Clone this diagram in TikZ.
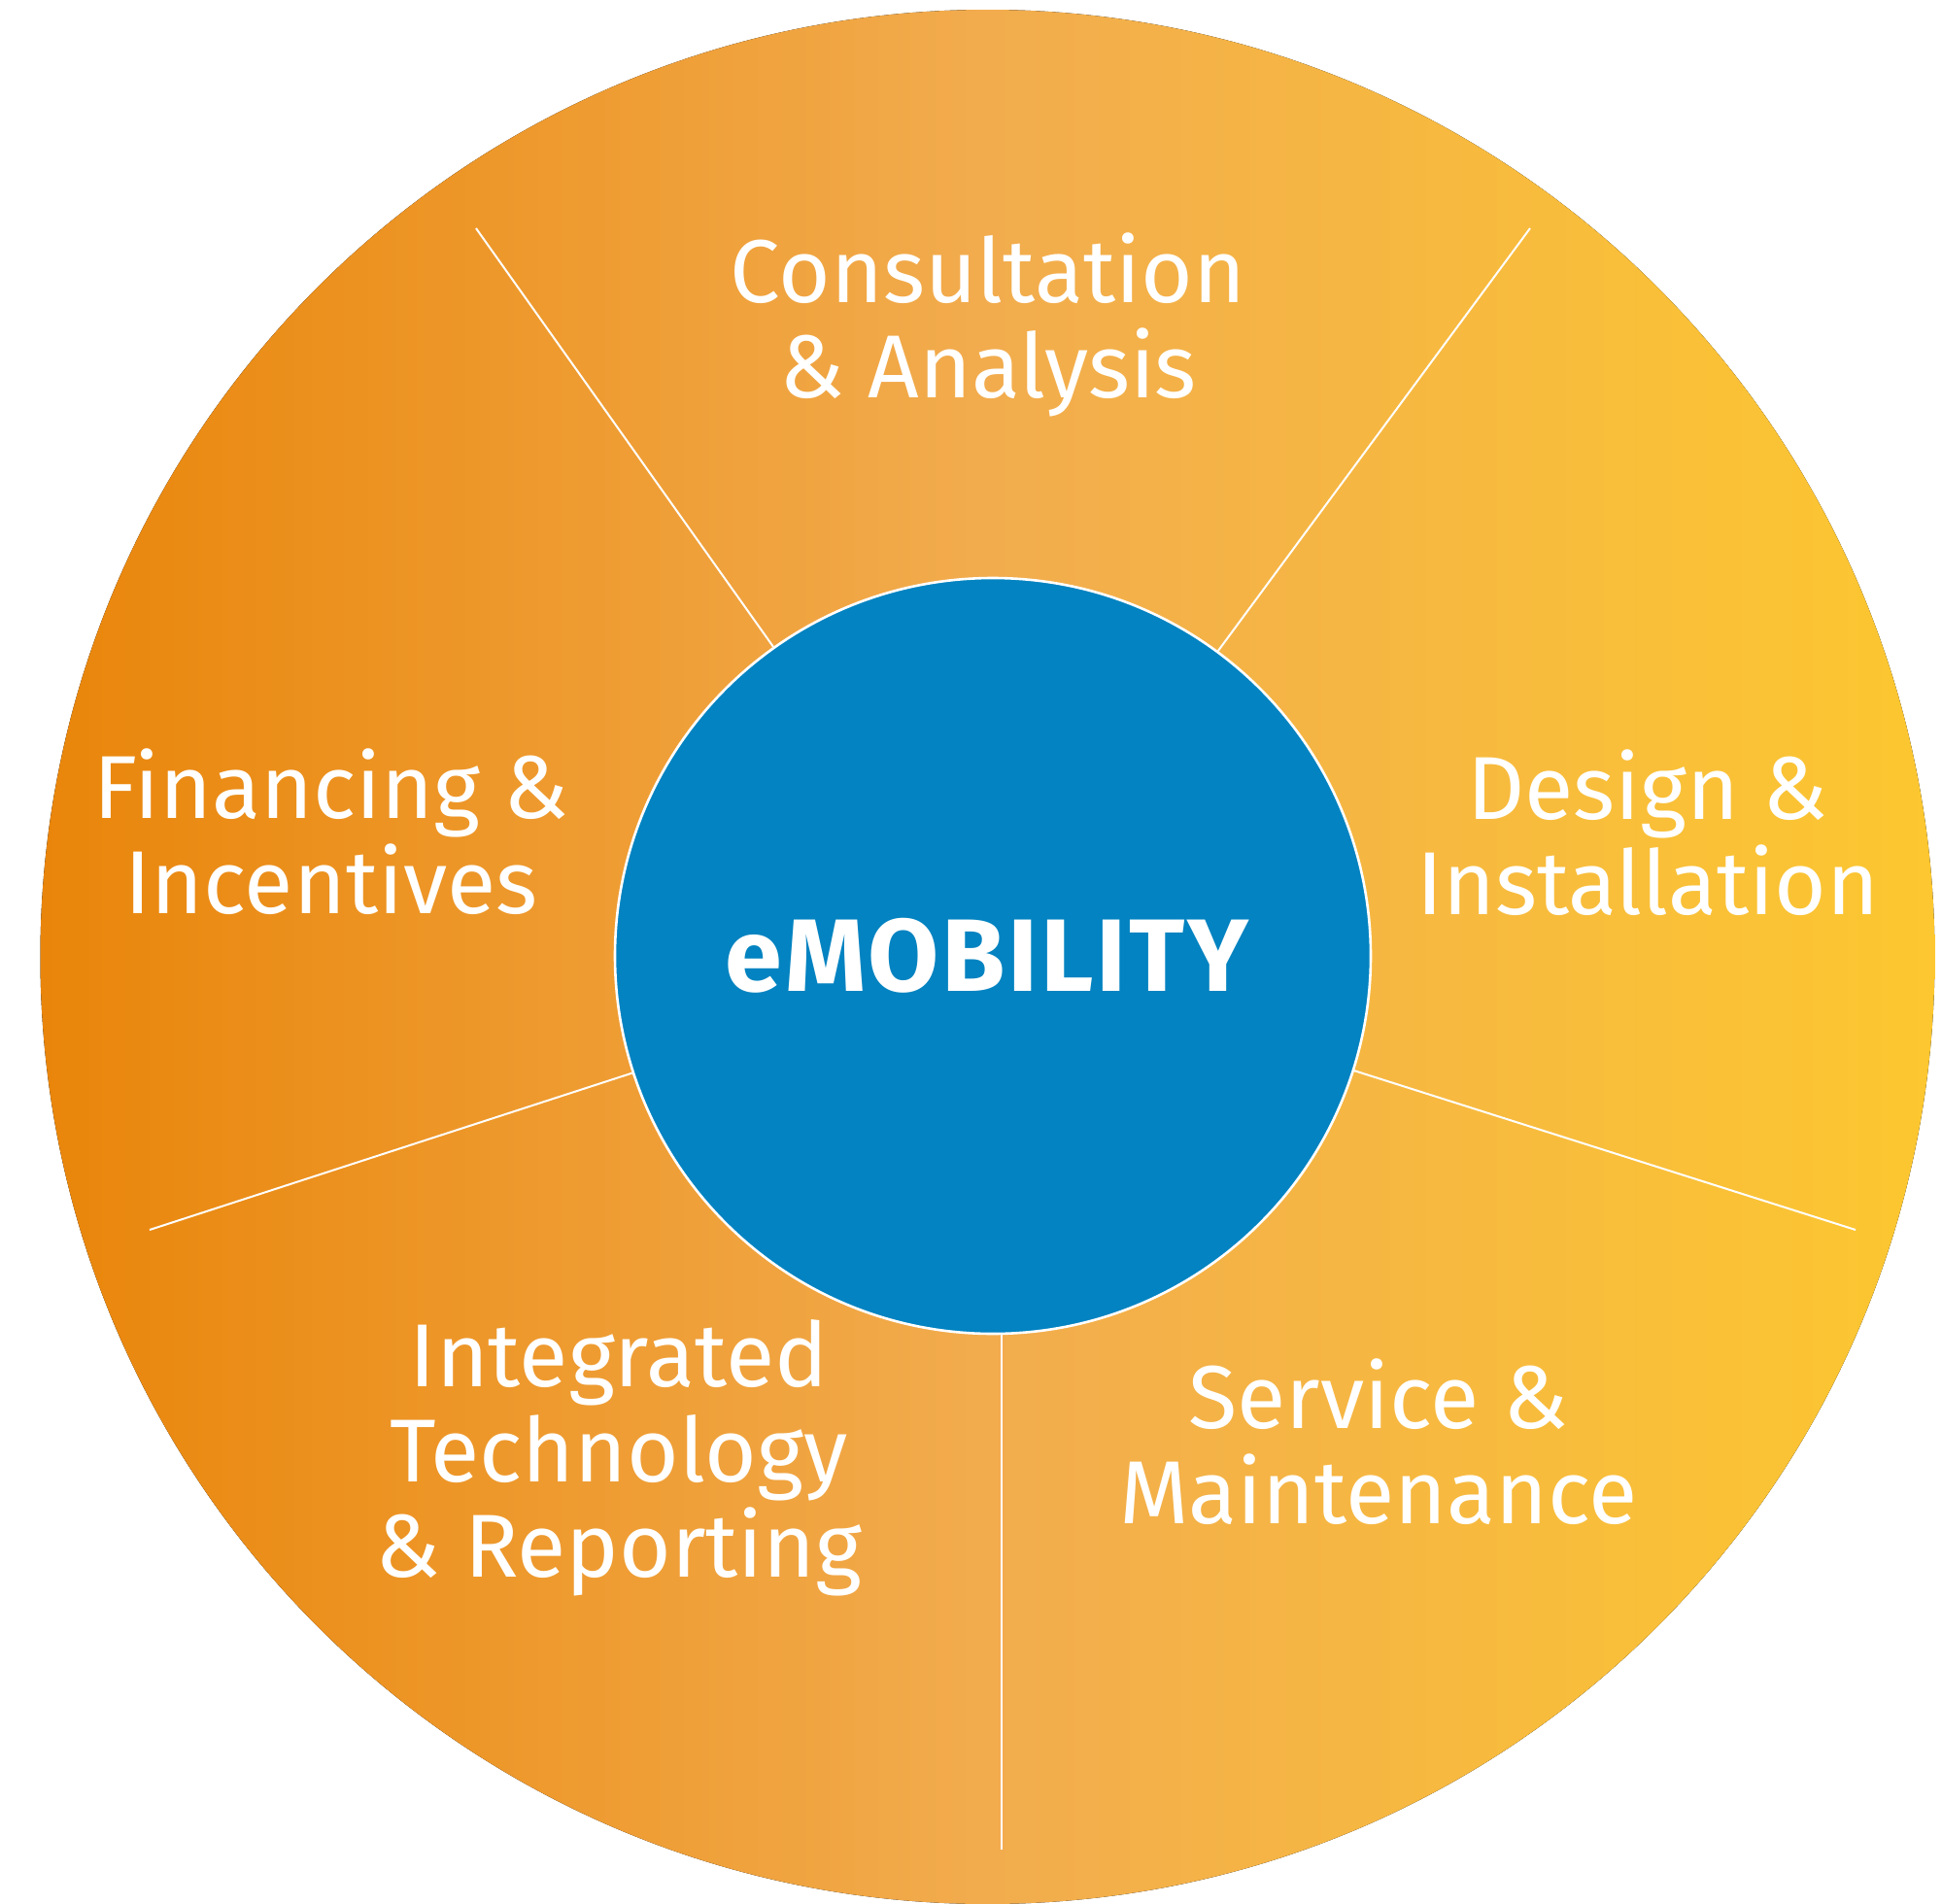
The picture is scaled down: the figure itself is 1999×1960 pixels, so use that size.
\documentclass[tikz,border=0pt]{standalone}
\usepackage{fontspec}
\setmainfont{Fira Sans}
\usetikzlibrary{calc}
\definecolor{wheelleft}{RGB}{233,133,10}
\definecolor{wheelmid}{RGB}{242,172,78}
\definecolor{wheelright}{RGB}{252,199,48}
\definecolor{hubblue}{RGB}{3,131,193}
\tikzset{every picture/.style={line width=0.75pt}}
\tikzset{
  hub/.style={circle, fill=hubblue, draw=white, line width=1.3pt, minimum size=389pt, inner sep=0pt,
    text=white, font=\bfseries\fontsize{53}{53}\selectfont\addfontfeatures{LetterSpace=2.6}},
  spoke/.style={draw=white, line width=1pt},
  seglabel/.style={text=white, align=center, inner sep=0pt, anchor=base,
    font=\fontsize{46}{49}\selectfont}
}

\begin{document}
\begin{tikzpicture}[x=0.5pt,y=0.5pt,yscale=-1,xscale=1]
\useasboundingbox (0,0) rectangle (1999,1960);

%Shape: Circle [wheel]
\fill [left color=wheelleft, right color=wheelright, middle color=wheelmid] (1016.5,985) circle [radius=487.5pt];

%Spoke ends
\coordinate (s1) at (490,235);
\coordinate (s2) at (1575,235);
\coordinate (s3) at (1910,1266);
\coordinate (s4) at (1031,1904);
\coordinate (s5) at (154,1266);

%Shape: Circle [hub]
\node [hub] (hub) at (1022,984) {eMOBILITY\hspace*{6pt}};

%Straight Lines [spokes]
\draw [spoke] (hub) -- (s1) ;
\draw [spoke] (hub) -- (s2) ;
\draw [spoke] (hub) -- (s3) ;
\draw [spoke] (hub.south -| s4) -- (s4) ;
\draw [spoke] (hub) -- (s5) ;

% Text Node
\node [seglabel] (consult) at (1017,409) {Consultation\\\& Analysis};
% Text Node
\node [seglabel] (design) at (1696,941) {Design \&\\Installation};
% Text Node
\node [seglabel] (service) at (1419,1568) {Service \&\\Maintenance};
% Text Node
\node [seglabel] (integrated) at (637,1623) {Integrated\\Technology\\\& Reporting};
% Text Node
\node [seglabel] (financing) at (341,940) {Financing \&\\Incentives};

\end{tikzpicture}
\end{document}
